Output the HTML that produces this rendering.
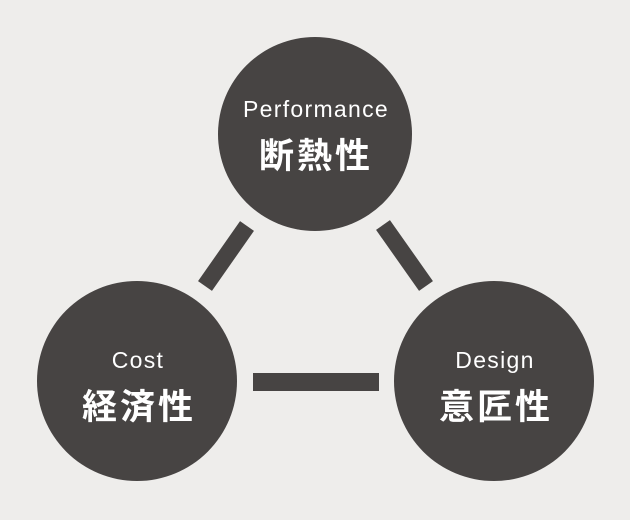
<!DOCTYPE html>
<html><head><meta charset="utf-8"><style>
html,body{margin:0;padding:0;background:#eeedeb;}
svg{display:block}
.en{font-family:"Liberation Sans",sans-serif;font-size:23px;fill:#fff;text-anchor:middle;letter-spacing:1.3px}
.jp{font-family:"Liberation Sans","Noto Sans CJK JP",sans-serif;font-size:35px;font-weight:bold;fill:#fff;text-anchor:middle;letter-spacing:3px}
</style></head><body>
<svg width="630" height="520" viewBox="0 0 630 520">
<rect width="630" height="520" fill="#eeedeb"/>
<g fill="#474443" stroke="none">
<circle cx="315" cy="134" r="97"/>
<circle cx="137" cy="381" r="100"/>
<circle cx="494" cy="381" r="100"/>
<rect x="253" y="373" width="126" height="18"/>
</g>
<line x1="247" y1="226" x2="205" y2="286" stroke="#474443" stroke-width="17"/>
<line x1="383" y1="225" x2="426" y2="286" stroke="#474443" stroke-width="17"/>
<text class="en" x="316" y="117">Performance</text>
<text class="jp" x="316" y="168">断熱性</text>
<text class="en" x="138" y="368">Cost</text>
<text class="jp" x="139" y="419">経済性</text>
<text class="en" x="495" y="368">Design</text>
<text class="jp" x="496" y="419">意匠性</text>
</svg>
</body></html>
